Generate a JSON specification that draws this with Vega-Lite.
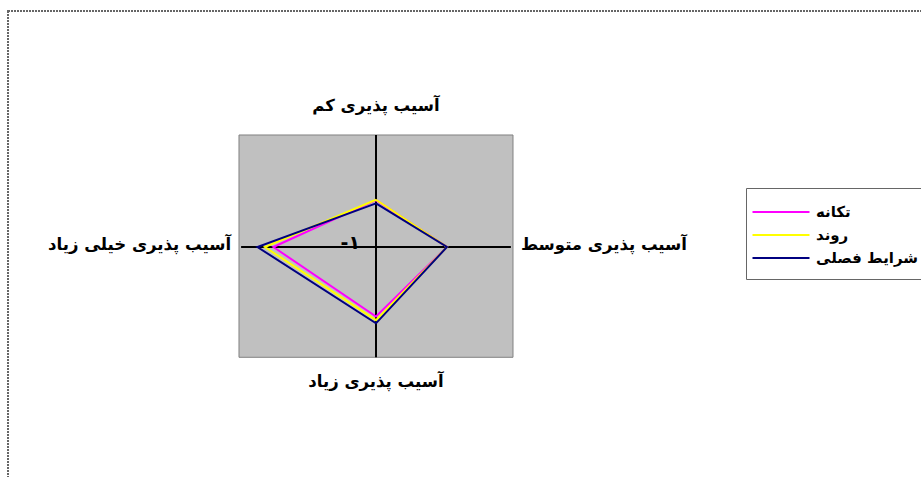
{
  "$schema": "https://vega.github.io/schema/vega-lite/v6.json",
  "autosize": "none",
  "padding": {"left": 8, "top": 11, "right": -16, "bottom": -10},
  "width": 929,
  "height": 476,
  "background": "white",
  "config": {
    "view": {"stroke": "#666666", "strokeWidth": 2, "strokeDash": [2, 1], "fill": "white"},
    "font": "DejaVu Sans"
  },
  "datasets": {
    "plot": [{"x1": -3.859, "x2": 3.859, "y1": 3.155, "y2": -3.107}],
    "axes": [
      {"name": "آسیب پذیری کم", "xe": 0, "ye": 3.155},
      {"name": "آسیب پذیری متوسط", "xe": 3.8, "ye": 0},
      {"name": "آسیب پذیری زیاد", "xe": 0, "ye": -3.107},
      {"name": "آسیب پذیری خیلی زیاد", "xe": -3.8, "ye": 0}
    ],
    "series": [
      {"series": "تکانه", "axis": "کم", "k": 0, "x": 0, "y": 1.32},
      {"series": "تکانه", "axis": "متوسط", "k": 1, "x": 2.0, "y": 0},
      {"series": "تکانه", "axis": "زیاد", "k": 2, "x": 0, "y": -1.96},
      {"series": "تکانه", "axis": "خیلی زیاد", "k": 3, "x": -2.89, "y": 0},
      {"series": "تکانه", "axis": "کم", "k": 4, "x": 0, "y": 1.32},
      {"series": "روند", "axis": "کم", "k": 0, "x": 0, "y": 1.33},
      {"series": "روند", "axis": "متوسط", "k": 1, "x": 2.0, "y": 0},
      {"series": "روند", "axis": "زیاد", "k": 2, "x": 0, "y": -2.06},
      {"series": "روند", "axis": "خیلی زیاد", "k": 3, "x": -3.13, "y": 0},
      {"series": "روند", "axis": "کم", "k": 4, "x": 0, "y": 1.33},
      {"series": "شرایط فصلی", "axis": "کم", "k": 0, "x": 0, "y": 1.23},
      {"series": "شرایط فصلی", "axis": "متوسط", "k": 1, "x": 2.0, "y": 0},
      {"series": "شرایط فصلی", "axis": "زیاد", "k": 2, "x": 0, "y": -2.15},
      {"series": "شرایط فصلی", "axis": "خیلی زیاد", "k": 3, "x": -3.34, "y": 0},
      {"series": "شرایط فصلی", "axis": "کم", "k": 4, "x": 0, "y": 1.23}
    ],
    "ticks": [{"label": "-۱", "x": 0, "y": 0}]
  },
  "layer": [
    {
      "data": {"name": "plot"},
      "mark": {"type": "rect", "fill": "#C0C0C0", "stroke": "#808080", "strokeWidth": 1},
      "encoding": {
        "x": {"field": "x1", "type": "quantitative", "scale": {"domain": [-10.366, 15.803], "nice": false, "zero": false}, "axis": null},
        "x2": {"field": "x2"},
        "y": {"field": "y1", "type": "quantitative", "scale": {"domain": [-6.761, 6.648], "nice": false, "zero": false}, "axis": null},
        "y2": {"field": "y2"}
      }
    },
    {
      "data": {"name": "axes"},
      "mark": {"type": "rule", "color": "black", "strokeWidth": 2},
      "encoding": {
        "x": {"field": "xe", "type": "quantitative"},
        "x2": {"datum": 0},
        "y": {"field": "ye", "type": "quantitative"},
        "y2": {"datum": 0}
      }
    },
    {
      "data": {"name": "series"},
      "mark": {"type": "line", "strokeWidth": 2},
      "encoding": {
        "x": {"field": "x", "type": "quantitative"},
        "y": {"field": "y", "type": "quantitative"},
        "order": {"field": "k", "type": "quantitative"},
        "color": {
          "field": "series", "type": "nominal",
          "scale": {"domain": ["تکانه", "روند", "شرایط فصلی"], "range": ["#FF00FF", "#FFFF00", "#000080"]},
          "legend": {
            "title": null, "orient": "none", "legendX": 738, "legendY": 177,
            "strokeColor": "#666666", "fillColor": "white",
            "padding": 13, "labelFont": "DejaVu Sans", "labelFontSize": 15, "labelFontWeight": "bold",
            "labelColor": "black", "symbolType": "M-2.85,0H2.85", "symbolSize": 400,
            "symbolStrokeWidth": 2, "symbolOffset": 11, "labelOffset": 24, "rowPadding": 4
          }
        }
      }
    },
    {
      "data": {"name": "ticks"},
      "mark": {"type": "text", "align": "right", "baseline": "middle", "dx": -16, "dy": -4, "fontSize": 19, "fontWeight": "bold", "color": "black"},
      "encoding": {
        "x": {"field": "x", "type": "quantitative"},
        "y": {"field": "y", "type": "quantitative"},
        "text": {"field": "label"}
      }
    },
    {
      "data": {"name": "axes"},
      "transform": [{"filter": "datum.ye > 0"}],
      "mark": {"type": "text", "align": "center", "baseline": "middle", "dy": -29, "fontSize": 16.5, "fontWeight": "bold", "color": "black"},
      "encoding": {
        "x": {"field": "xe", "type": "quantitative"},
        "y": {"field": "ye", "type": "quantitative"},
        "text": {"field": "name"}
      }
    },
    {
      "data": {"name": "axes"},
      "transform": [{"filter": "datum.ye < 0"}],
      "mark": {"type": "text", "align": "center", "baseline": "middle", "dy": 25, "fontSize": 16.5, "fontWeight": "bold", "color": "black"},
      "encoding": {
        "x": {"field": "xe", "type": "quantitative"},
        "y": {"field": "ye", "type": "quantitative"},
        "text": {"field": "name"}
      }
    },
    {
      "data": {"name": "axes"},
      "transform": [{"filter": "datum.xe > 0"}],
      "mark": {"type": "text", "align": "left", "baseline": "middle", "dx": 10, "dy": -2, "fontSize": 16.5, "fontWeight": "bold", "color": "black"},
      "encoding": {
        "x": {"field": "xe", "type": "quantitative"},
        "y": {"field": "ye", "type": "quantitative"},
        "text": {"field": "name"}
      }
    },
    {
      "data": {"name": "axes"},
      "transform": [{"filter": "datum.xe < 0"}],
      "mark": {"type": "text", "align": "right", "baseline": "middle", "dx": -10, "dy": -2, "fontSize": 16.5, "fontWeight": "bold", "color": "black"},
      "encoding": {
        "x": {"field": "xe", "type": "quantitative"},
        "y": {"field": "ye", "type": "quantitative"},
        "text": {"field": "name"}
      }
    }
  ]
}
